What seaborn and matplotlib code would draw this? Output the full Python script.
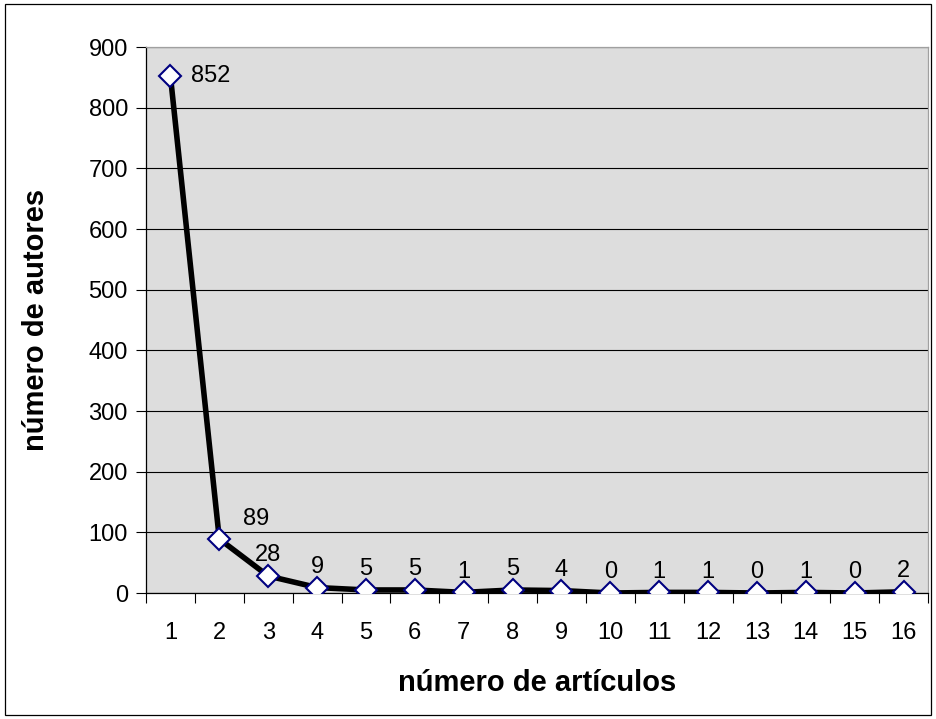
import matplotlib
matplotlib.use("Agg")
import matplotlib.pyplot as plt
import matplotlib.patches as mpatches
import seaborn as sns
import pandas as pd

# data
articulos = [1, 2, 3, 4, 5, 6, 7, 8, 9, 10, 11, 12, 13, 14, 15, 16]
autores = [852, 89, 28, 9, 5, 5, 1, 5, 4, 0, 1, 1, 0, 1, 0, 2]
y_ticks = [0, 100, 200, 300, 400, 500, 600, 700, 800, 900]

df = pd.DataFrame({"articulos": articulos, "autores": autores})

sns.set_style("white")
plt.rcParams["font.family"] = ["Liberation Sans", "DejaVu Sans"]
plt.rcParams["text.color"] = "black"
plt.rcParams["axes.labelcolor"] = "black"
plt.rcParams["xtick.color"] = "black"
plt.rcParams["ytick.color"] = "black"

fig = plt.figure(figsize=(9.36, 7.19), dpi=100)
ax = fig.add_axes([146 / 936, 1 - 593 / 719, (928 - 146) / 936, (593 - 47) / 719])
ax.set_facecolor("#DDDDDD")

sns.lineplot(data=df, x="articulos", y="autores", ax=ax, color="black", linewidth=4,
             marker="D", markersize=11, markerfacecolor="white",
             markeredgecolor="#000080", markeredgewidth=1.5, zorder=3)

# data labels (px offsets converted to points)
for x, y in zip(articulos, autores):
    if x == 1:
        ax.annotate(str(y), (x, y), xytext=(15, 0), textcoords="offset points",
                    ha="left", va="center", fontsize=17)
    elif x == 2:
        ax.annotate(str(y), (x, y), xytext=(17, 14.5), textcoords="offset points",
                    ha="left", va="center", fontsize=17)
    else:
        ax.annotate(str(y), (x, y), xytext=(0, 15), textcoords="offset points",
                    ha="center", va="center", fontsize=17)

ax.set_xlim(0.5, 16.5)
ax.set_ylim(0, 900)
ax.set_yticks(y_ticks)
ax.set_xticks(articulos)
ax.set_xticklabels([str(a) for a in articulos])
ax.set_xticks([a + 0.5 for a in [0] + articulos], minor=True)
ax.yaxis.grid(True, color="black", linewidth=0.8)
ax.set_axisbelow(True)

ax.tick_params(axis="y", which="major", direction="out", length=7, width=0.8,
               color="black", labelsize=17, pad=6, left=True)
ax.tick_params(axis="x", which="major", length=0, labelsize=17, pad=21)
ax.tick_params(axis="x", which="minor", direction="out", length=7, width=0.8,
               color="black", bottom=True)

for side in ["left", "bottom"]:
    ax.spines[side].set_color("black")
    ax.spines[side].set_linewidth(0.9)
for side in ["top", "right"]:
    ax.spines[side].set_color("#A0A0A0")
    ax.spines[side].set_linewidth(0.9)

ax.set_xlabel("número de artículos", fontsize=21, fontweight="bold", labelpad=18)
ax.set_ylabel("número de autores", fontsize=21, fontweight="bold", labelpad=28)

# outer chart border
fig.patches.append(mpatches.Rectangle((5 / 936, 4 / 719), 926 / 936, 711 / 719,
                                      transform=fig.transFigure, fill=False,
                                      edgecolor="black", linewidth=0.9))

fig.savefig("out.png", dpi=100)
